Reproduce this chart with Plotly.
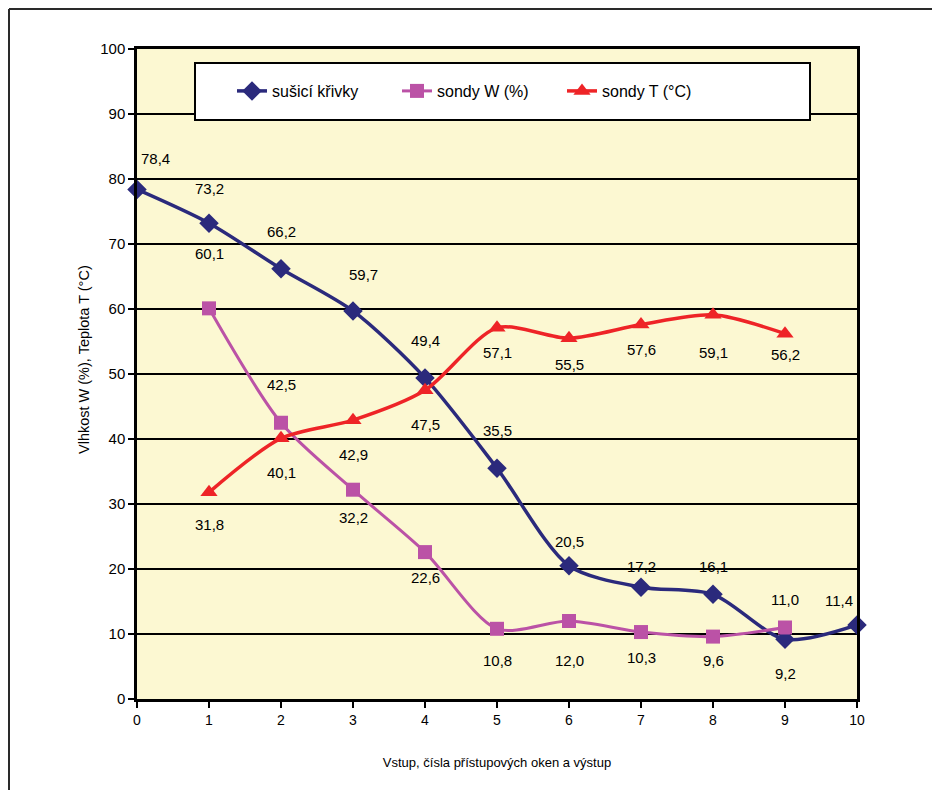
import plotly.graph_objects as go

# ---- data ----
x_vals = [0, 1, 2, 3, 4, 5, 6, 7, 8, 9, 10]
x_probe = [1, 2, 3, 4, 5, 6, 7, 8, 9]
susici_krivky = [78.4, 73.2, 66.2, 59.7, 49.4, 35.5, 20.5, 17.2, 16.1, 9.2, 11.4]
sondy_w = [60.1, 42.5, 32.2, 22.6, 10.8, 12.0, 10.3, 9.6, 11.0]
sondy_t = [31.8, 40.1, 42.9, 47.5, 57.1, 55.5, 57.6, 59.1, 56.2]
x_ticks = [0, 1, 2, 3, 4, 5, 6, 7, 8, 9, 10]
y_ticks = [0, 10, 20, 30, 40, 50, 60, 70, 80, 90, 100]

names = ["sušicí křivky", "sondy W (%)", "sondy T (°C)"]
colors = ["#2B2A7C", "#BB52A6", "#EE2427"]
symbols = ["diamond", "square", "triangle-up"]

# label pixel offsets (dx, dy) – styling for data labels
off_blue = [(18, 31), (0, 35), (0, 37), (10, 36), (0, 37), (0, 38), (0, 24), (0, 21), (0, 28), (0, -34), (-18, 24)]
off_pink = [(0, 55), (0, 38), (0, -28), (0, -25), (0, -32), (0, -39), (0, -25), (0, -24), (0, 28)]
off_red = [(0, -32), (0, -34), (0, -34), (0, -34), (0, -25), (0, -26), (0, -25), (0, -38), (0, -21)]

FONT = "Arial, Liberation Sans, sans-serif"

fig = go.Figure()
series = [(x_vals, susici_krivky, off_blue), (x_probe, sondy_w, off_pink), (x_probe, sondy_t, off_red)]
sizes = [15, 14, 15]
widths = [3.5, 3, 3.5]
for (xs, ys, offs), name, c, s, sz, w in zip(series, names, colors, symbols, sizes, widths):
    fig.add_trace(go.Scatter(
        x=xs, y=ys, name=name, mode="lines+markers",
        line=dict(color=c, width=w, shape="spline", smoothing=0.8),
        marker=dict(symbol=s, size=sz, color=c),
        cliponaxis=False,
    ))

annotations = []
for (xs, ys, offs) in series:
    for xv, yv, (dx, dy) in zip(xs, ys, offs):
        annotations.append(dict(
            x=xv, y=yv, xref="x", yref="y",
            text=f"{yv:.1f}".replace(".", ","),
            showarrow=False, xshift=dx, yshift=dy,
            font=dict(family=FONT, size=15, color="black"),
        ))

W, H = 932, 782          # page body has an 8px margin
L, R, T, B = 129, 83, 41, 91
PW, PH = W - L - R, H - T - B


def px(sx):
    return (sx - 8 - L) / PW


def py(sy):
    return (H - B - (sy - 8)) / PH


# y-axis title as rotated annotation
annotations.append(dict(
    x=px(84), y=py(360), xref="paper", yref="paper",
    text="Vlhkost W (%), Teplota T (°C)", textangle=-90, showarrow=False,
    xanchor="center", yanchor="middle",
    font=dict(family=FONT, size=14.5, color="black"),
))

shapes = [
    # legend box
    dict(type="rect", xref="paper", yref="paper", x0=px(195), x1=px(810), y0=py(120), y1=py(63),
         fillcolor="white", line=dict(color="black", width=2), layer="above"),
    # outer frame (top and left edges)
    dict(type="line", xref="paper", yref="paper", x0=px(9), x1=px(950), y0=py(9), y1=py(9),
         line=dict(color="#2a2a2a", width=2)),
    dict(type="line", xref="paper", yref="paper", x0=px(9), x1=px(9), y0=py(9), y1=py(800),
         line=dict(color="#2a2a2a", width=2)),
]

fig.update_layout(
    width=W, height=H,
    margin=dict(l=L, r=R, t=T, b=B, autoexpand=False),
    paper_bgcolor="white",
    plot_bgcolor="#FCF8D2",
    font=dict(family=FONT, size=15, color="black"),
    showlegend=True,
    legend=dict(
        orientation="h", x=px(232), y=py(91), xanchor="left", yanchor="middle",
        bgcolor="rgba(0,0,0,0)", font=dict(size=16, family=FONT),
        entrywidth=120, entrywidthmode="pixels",
    ),
    annotations=annotations,
    shapes=shapes,
    xaxis=dict(
        range=[0, 10], tickvals=x_ticks, ticktext=[str(v) for v in x_ticks],
        showgrid=False, zeroline=False,
        showline=True, linecolor="black", linewidth=2.5, mirror=True,
        ticks="outside", ticklen=6, tickwidth=2, tickcolor="black",
        tickfont=dict(size=14),
        title=dict(text="Vstup, čísla přístupových oken a výstup", font=dict(size=13), standoff=32),
    ),
    yaxis=dict(
        range=[0, 100], tickvals=y_ticks,
        showgrid=True, gridcolor="black", gridwidth=2, zeroline=False,
        showline=True, linecolor="black", linewidth=2.5, mirror=True,
        ticks="outside", ticklen=6, tickwidth=2, tickcolor="black",
        tickfont=dict(size=15),
    ),
)

fig.write_html("out.html")
